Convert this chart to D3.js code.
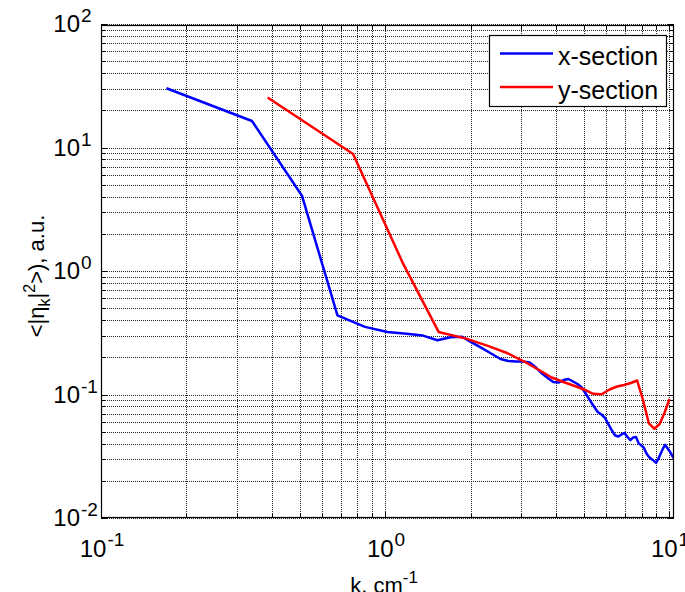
<!DOCTYPE html>
<html>
<head>
<meta charset="utf-8">
<script src="https://cdn.jsdelivr.net/npm/d3@7"></script>
<style>
  html, body { margin: 0; padding: 0; background: #fff; }
  svg { display: block; font-family: "Liberation Sans", Arial, sans-serif; }
</style>
</head>
<body>
<svg id="chart" width="685" height="592"></svg>
<script>
// Wavenumber grids of the two cuts (cm^-1)
const kX = [0.17, 0.34, 0.51, 0.68, 0.85, 1.02, 1.19, 1.36, 1.53, 1.70, 1.87, 2.04, 2.21, 2.38, 2.55, 2.72,
  2.89, 3.06, 3.23, 3.40, 3.57, 3.74, 3.91, 4.08, 4.25, 4.42, 4.59, 4.76, 4.93, 5.10, 5.27, 5.44, 5.61,
  5.78, 5.95, 6.12, 6.29, 6.46, 6.63, 6.80, 6.97, 7.14, 7.31, 7.48, 7.65, 7.82, 7.99, 8.16, 8.33, 8.50,
  8.67, 8.84, 9.01, 9.18, 9.35, 9.52, 9.69, 9.86, 10.03, 10.20, 10.37];
// Spectrum along the x-section
const xSection = [30.2, 16.4, 4.07, 0.438, 0.353, 0.321, 0.311, 0.300, 0.275, 0.291, 0.293, 0.261, 0.2355,
  0.2126, 0.1937, 0.1866, 0.1849, 0.1849, 0.1815, 0.1653, 0.1478, 0.1360, 0.1262, 0.1250, 0.1310, 0.1335,
  0.1274, 0.1216, 0.1139, 0.1009, 0.0894, 0.0800, 0.0722, 0.0689, 0.0646, 0.0572, 0.0512, 0.0466, 0.0457,
  0.0475, 0.0488, 0.0453, 0.0427, 0.0449, 0.0453, 0.0402, 0.0387, 0.0369, 0.0333, 0.0312, 0.0301, 0.0290,
  0.0280, 0.0304, 0.0333, 0.0366, 0.0391, 0.0369, 0.0349, 0.0327, 0.0306];

const kY = [0.386, 0.772, 1.158, 1.544, 1.930, 2.316, 2.702, 3.088, 3.474, 3.860, 4.246, 4.632, 5.018,
  5.404, 5.790, 6.176, 6.562, 6.948, 7.334, 7.720, 8.106, 8.492, 8.878, 9.264, 9.650, 10.036];
// Spectrum along the y-section
const ySection = [25.4, 8.85, 1.147, 0.321, 0.2835, 0.2466, 0.2158, 0.1849, 0.1587, 0.1373, 0.1262, 0.1178,
  0.1098, 0.1013, 0.1004, 0.1098, 0.1161, 0.1193, 0.1239, 0.1298, 0.0894, 0.0583, 0.0528, 0.0577, 0.0715,
  0.0920];

const seriesNames = ["x-section", "y-section"];
const seriesColors = ["#0000ff", "#ff0000"];

const xTickExps = [-1, 0, 1];
const yTickExps = [-2, -1, 0, 1, 2];

const svg = d3.select("#chart");
const box = { left: 101, top: 25, right: 674, bottom: 518 };

const x = d3.scaleLog().domain([0.1, 10.41]).range([box.left, box.right]);
const y = d3.scaleLog().domain([0.01, 100]).range([box.bottom, 24]);

// minor + major tick values for each decade
function logTicks(lo, hi) {
  const out = [];
  for (let e = lo; e < hi; e++) {
    for (let m = 1; m < 10; m++) out.push(m * Math.pow(10, e));
  }
  out.push(Math.pow(10, hi));
  return out;
}
const xTicks = logTicks(-1, 1);
const yTicks = logTicks(-2, 2);

svg.append("rect").attr("x", box.left).attr("y", box.top)
  .attr("width", box.right - box.left).attr("height", box.bottom - box.top).attr("fill", "#fff");

// dotted grid
const grid = svg.append("g").attr("stroke", "#000").attr("stroke-width", 1)
  .attr("stroke-dasharray", "1,1").attr("stroke-opacity", 0.85);
grid.selectAll("line.gx").data(xTicks).join("line")
  .attr("x1", d => Math.round(x(d)) + 0.5).attr("x2", d => Math.round(x(d)) + 0.5)
  .attr("y1", box.top).attr("y2", box.bottom);
grid.selectAll("line.gy").data(yTicks).join("line")
  .attr("y1", d => Math.round(y(d)) + 0.5).attr("y2", d => Math.round(y(d)) + 0.5)
  .attr("x1", box.left).attr("x2", box.right);

// inward ticks on all four sides
const tk = svg.append("g").attr("stroke", "#000").attr("stroke-width", 1);
const isMajor = v => Math.abs(Math.log10(v) - Math.round(Math.log10(v))) < 1e-9;
xTicks.forEach(v => {
  const px = Math.round(x(v)) + 0.5, L = isMajor(v) ? 6 : 4;
  tk.append("line").attr("x1", px).attr("x2", px).attr("y1", box.bottom).attr("y2", box.bottom - L);
  tk.append("line").attr("x1", px).attr("x2", px).attr("y1", box.top).attr("y2", box.top + L);
});
yTicks.forEach(v => {
  const py = Math.round(y(v)) + 0.5, L = isMajor(v) ? 6 : 4;
  tk.append("line").attr("y1", py).attr("y2", py).attr("x1", box.left).attr("x2", box.left + L);
  tk.append("line").attr("y1", py).attr("y2", py).attr("x1", box.right).attr("x2", box.right - L);
});

// data lines
svg.append("clipPath").attr("id", "plotclip").append("rect")
  .attr("x", box.left).attr("y", box.top).attr("width", box.right - box.left).attr("height", box.bottom - box.top);
const line = d3.line().x(d => x(d[0])).y(d => y(d[1]));
const series = [d3.zip(kX, xSection), d3.zip(kY, ySection)];
svg.append("g").attr("clip-path", "url(#plotclip)")
  .selectAll("path").data(series).join("path")
  .attr("d", line).attr("fill", "none")
  .attr("stroke", (d, i) => seriesColors[i]).attr("stroke-width", 2.5)
  .attr("stroke-linejoin", "round");

// axes frame
svg.append("rect").attr("x", box.left + 0.5).attr("y", box.top + 0.5)
  .attr("width", box.right - box.left - 1).attr("height", box.bottom - box.top - 1)
  .attr("fill", "none").attr("stroke", "#000").attr("stroke-width", 1.2);

// tick labels
const ty = svg.append("g").attr("fill", "#000");
yTickExps.forEach(e => {
  const py = y(Math.pow(10, e));
  ty.append("text").attr("x", 80).attr("y", py + 8).attr("text-anchor", "end")
    .attr("font-size", 24).text("10");
  ty.append("text").attr("x", 81).attr("y", py - 2).attr("text-anchor", "start")
    .attr("font-size", 19).text(e < 0 ? "-" + (-e) : String(e));
});
xTickExps.forEach(e => {
  const t = ty.append("text").attr("x", x(Math.pow(10, e)) + 1).attr("y", 557)
    .attr("text-anchor", "middle").attr("font-size", 24);
  t.append("tspan").text("10");
  t.append("tspan").attr("font-size", 19).attr("dy", -11).attr("dx", 1)
    .text(e < 0 ? "-" + (-e) : String(e));
});

// axis titles
const xl = svg.append("text").attr("x", 384).attr("y", 593).attr("text-anchor", "middle").attr("font-size", 22);
xl.append("tspan").text("k, cm");
xl.append("tspan").attr("font-size", 17).attr("dy", -10).text("-1");

const yl = svg.append("text").attr("transform", "translate(44,276) rotate(-90)")
  .attr("text-anchor", "middle").attr("font-size", 22);
yl.append("tspan").text("<|\u03b7");
yl.append("tspan").attr("font-size", 16).attr("dy", 6).text("k");
yl.append("tspan").attr("dy", -6).text("|");
yl.append("tspan").attr("font-size", 16).attr("dy", -9).text("2");
yl.append("tspan").attr("dy", 9).text(">), a.u.");

// legend
const lg = svg.append("g");
lg.append("rect").attr("x", 489.5).attr("y", 35.5).attr("width", 177).attr("height", 71)
  .attr("fill", "#fff").attr("stroke", "#000").attr("stroke-width", 1.2);
seriesNames.forEach((name, i) => {
  const ly = 53.5 + i * 33.5;
  lg.append("line").attr("x1", 500).attr("x2", 553).attr("y1", ly).attr("y2", ly)
    .attr("stroke", seriesColors[i]).attr("stroke-width", 2.5);
  lg.append("text").attr("x", 558).attr("y", ly + 11.5).attr("font-size", 25).text(name);
});
</script>
</body>
</html>
